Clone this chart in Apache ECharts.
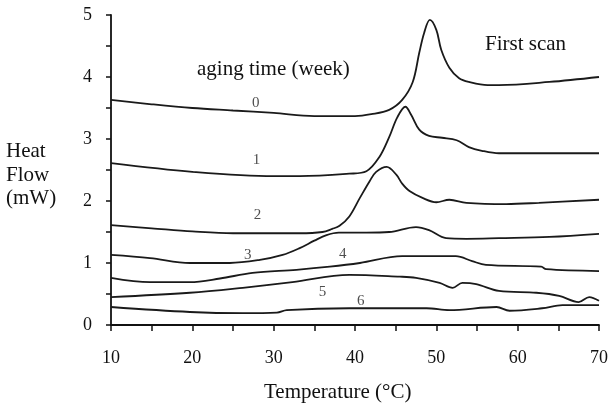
<!DOCTYPE html>
<html>
<head>
<meta charset="utf-8">
<script src="https://cdn.jsdelivr.net/npm/echarts@6/dist/echarts.min.js"></script>
<style>
  html, body { margin: 0; padding: 0; background: #fff; }
  #chart { width: 611px; height: 405px; }
</style>
</head>
<body>
<div id="chart"></div>
<script>
// heat flow curves, one per aging week, [temperature, mW]
var week0 = [[10,3.63],[15,3.56],[20,3.50],[25,3.46],[30,3.42],[35,3.37],[40,3.37],[42,3.40],[44.2,3.47],[45.8,3.63],[47.1,3.92],[47.9,4.39],[48.5,4.71],[49.2,4.92],[50,4.76],[50.6,4.44],[51.6,4.15],[52.8,3.98],[54,3.92],[56.3,3.87],[57.7,3.87],[63.9,3.92],[70,4.0]];
var week1 = [[10,2.61],[20,2.47],[30,2.40],[33.2,2.40],[39.3,2.44],[41.4,2.48],[43,2.71],[44.2,3.03],[45.2,3.35],[46.2,3.52],[46.9,3.39],[47.9,3.15],[49.1,3.05],[50.7,3.02],[52.5,2.98],[54,2.87],[55.6,2.81],[57.7,2.77],[70,2.77]];
var week2 = [[10,1.61],[15,1.56],[20,1.51],[25,1.48],[30,1.48],[33.2,1.48],[36,1.50],[37.2,1.55],[38.1,1.60],[39.3,1.75],[40.6,2.05],[41.8,2.32],[42.6,2.47],[43.9,2.55],[45.1,2.42],[45.8,2.28],[46.7,2.16],[48.3,2.05],[50,1.98],[51.6,2.02],[53.7,1.97],[58.6,1.95],[62.6,1.97],[70,2.02]];
var week3 = [[10,1.13],[14.8,1.08],[19.7,1.0],[24.6,1.0],[28.3,1.05],[31.1,1.13],[33.2,1.24],[35,1.36],[36.5,1.45],[38,1.49],[41.4,1.49],[44.2,1.50],[47.5,1.58],[49.1,1.53],[51.2,1.40],[53.7,1.39],[57.7,1.40],[63.9,1.42],[70,1.47]];
var week4 = [[10,0.76],[14.8,0.69],[19.7,0.69],[23.4,0.75],[27.4,0.84],[32.8,0.89],[36.9,0.94],[40.6,1.0],[45.8,1.11],[52.4,1.11],[54.4,1.03],[56.1,0.97],[62.9,0.94],[63.5,0.90],[70,0.87]];
var week5 = [[10,0.45],[19.7,0.52],[26.2,0.60],[32.3,0.69],[39.3,0.81],[45.5,0.78],[47.5,0.76],[50.4,0.68],[52,0.60],[53.2,0.68],[54.9,0.66],[57.7,0.55],[62.3,0.52],[65.1,0.47],[67.5,0.37],[68.8,0.45],[70,0.39]];
var week6 = [[10,0.29],[19.7,0.21],[26.2,0.19],[30.4,0.20],[31.6,0.24],[39.3,0.27],[48.8,0.27],[51.6,0.24],[57.4,0.29],[59,0.23],[63,0.27],[65.5,0.32],[70,0.32]];

var weeks = ['0', '1', '2', '3', '4', '5', '6'];
var curves = [week0, week1, week2, week3, week4, week5, week6];
// where each week number is written on the chart
var labelPos = [[27.8,3.58],[27.9,2.66],[28.0,1.77],[26.8,1.13],[38.5,1.15],[36.0,0.53],[40.7,0.39]];

var chart = echarts.init(document.getElementById('chart'));
var serif = '"Liberation Serif", "DejaVu Serif", serif';

var series = curves.map(function (c, i) {
  return {
    name: weeks[i],
    type: 'line',
    data: c,
    smooth: 0.35,
    showSymbol: false,
    lineStyle: { color: '#1a1a1a', width: 1.8 }
  };
});
series.push({
  type: 'scatter',
  symbolSize: 0,
  data: labelPos.map(function (p, i) { return { value: p, name: weeks[i] }; }),
  label: {
    show: true, position: 'inside', formatter: '{b}',
    color: '#222', fontFamily: serif, fontSize: 15
  }
});

var option = {
  backgroundColor: '#fff',
  animation: false,
  grid: { left: 111, right: 11, top: 15, bottom: 80 },
  xAxis: {
    type: 'value', min: 10, max: 70, interval: 10,
    axisLine: { lineStyle: { color: '#111', width: 1.8 } },
    axisTick: { show: true, length: 6, lineStyle: { color: '#111', width: 1.5 } },
    minorTick: { show: true, splitNumber: 2, length: 6, lineStyle: { color: '#111', width: 1.5 } },
    splitLine: { show: false },
    axisLabel: { color: '#111', fontFamily: serif, fontSize: 18, margin: 24 }
  },
  yAxis: {
    type: 'value', min: 0, max: 5, interval: 1,
    axisLine: { show: true, lineStyle: { color: '#111', width: 1.8 } },
    axisTick: { show: true, length: 5, lineStyle: { color: '#111', width: 1.5 } },
    minorTick: { show: true, splitNumber: 2, length: 5, lineStyle: { color: '#111', width: 1.5 } },
    splitLine: { show: false },
    axisLabel: { color: '#111', fontFamily: serif, fontSize: 18, margin: 19 }
  },
  graphic: [
    { type: 'text', left: 6, top: 140, style: { text: 'Heat\nFlow\n(mW)', fill: '#111', font: '21px ' + serif, lineHeight: 23.5 } },
    { type: 'text', left: 264, top: 382, style: { text: 'Temperature (°C)', fill: '#111', font: '21px ' + serif } },
    { type: 'text', left: 197, top: 59, style: { text: 'aging time (week)', fill: '#111', font: '21px ' + serif } },
    { type: 'text', left: 485, top: 34, style: { text: 'First scan', fill: '#111', font: '21px ' + serif } }
  ],
  series: series
};

chart.setOption(option);
</script>
</body>
</html>
